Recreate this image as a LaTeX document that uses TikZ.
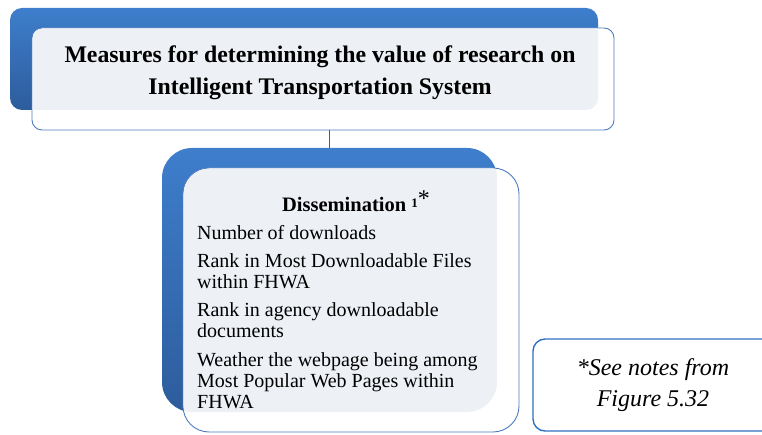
\documentclass[tikz,border=0pt]{standalone}
\usepackage{fontspec}
\setmainfont{Liberation Serif}
\begin{document}
\begin{tikzpicture}[x=1pt,y=-1pt,
  backbox/.style={draw=none,shade,top color=blueT,bottom color=blueB,rounded corners=#1,anchor=center,inner sep=0pt},
  frontbox/.style={draw=edge,line width=0.9pt,fill=white,rounded corners=#1,anchor=center,inner sep=0pt},
  link/.style={draw=linkc,line width=0.9pt}]
\definecolor{blueT}{HTML}{3E7ECC}
\definecolor{blueB}{HTML}{2D5C9C}
\definecolor{edge}{HTML}{4F7CC0}
\definecolor{linkc}{HTML}{3A5E96}
\definecolor{tex}{HTML}{EDF0F5}
\definecolor{notec}{HTML}{2F70C0}
\useasboundingbox (0,0) rectangle (762,435);
\begin{scope}
\clip (0,0) rectangle (762,435);
% top
\node[backbox=12pt,minimum width=588pt,minimum height=102pt] (b1) at (304,59) {};
\node[frontbox=10pt,minimum width=582pt,minimum height=102pt] (w1) at (323,79) {};
\begin{scope}
\clip[rounded corners=12pt] (10,8) rectangle (598,110);
\fill[tex,rounded corners=10pt] (32.5,28.5) rectangle (613.5,129.5);
\end{scope}
\node[align=center,font=\fontsize{23.8}{32}\selectfont\bfseries] (title) at (320,73)
  {Measures for determining the value of research on\\Intelligent Transportation System};
% second
\node[backbox=30pt,minimum width=335pt,minimum height=264pt] (b2) at (329.5,280) {};
\node[frontbox=26pt,minimum width=336pt,minimum height=264pt] (w2) at (351,300) {};
\begin{scope}
\clip[rounded corners=30pt] (162,148) rectangle (497,412);
\fill[tex,rounded corners=26pt] (183.5,168.5) rectangle (518.5,431.5);
\end{scope}
\draw[link] (b2.north |- w1.south) -- (b2.north);
\node[font=\fontsize{20.5}{22}\selectfont] (head) at (356,201)
  {\textbf{Dissemination} \raisebox{0.4ex}{\fontsize{13}{13}\selectfont\textbf{1}\raisebox{0.15ex}{\fontsize{24}{24}\selectfont*}}};
\node[anchor=north west,align=left,inner sep=0pt,font=\fontsize{20}{21}\selectfont] (items) at (197,225)
  {Number of downloads\\[7pt]
   Rank in Most Downloadable Files\\within FHWA\\[7pt]
   Rank in agency downloadable\\documents\\[8pt]
   Weather the webpage being among\\Most Popular Web Pages within\\FHWA};
% note
\node[draw=notec,line width=1.4pt,rounded corners=12pt,minimum width=242pt,minimum height=92pt,inner sep=0pt] (note) at (654,385) {};
\node[align=center,font=\fontsize{24}{31}\selectfont\itshape] (notetext) at (653,385)
  {*See notes from\\Figure 5.32};
\end{scope}
\end{tikzpicture}
\end{document}
